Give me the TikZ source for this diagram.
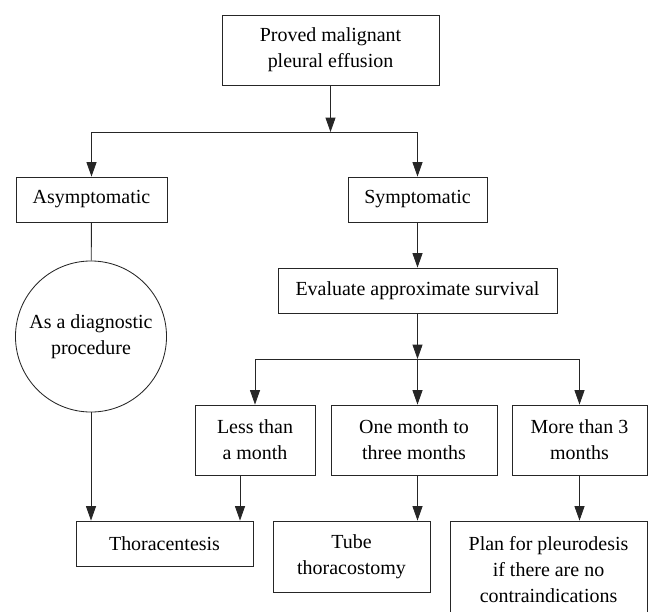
\documentclass[tikz,border=0pt]{standalone}
\usepackage{fontspec}
\setmainfont{Liberation Serif}
\usetikzlibrary{shapes,arrows.meta}
\tikzstyle{block} = [draw, fill=white, rectangle, minimum height=1.125cm, inner sep=2pt, align=center]
\tikzstyle{roundblock} = [draw, fill=white, circle, minimum size=3.775cm, inner sep=1pt, align=center]

\begin{document}
\begin{tikzpicture}[auto, x=0.025cm, y=-0.025cm, >={Triangle[length=3.6mm, width=2.5mm]}, line width=0.6pt, draw=black!85]
    \tikzset{font={\fontsize{14.2pt}{18.5pt}\selectfont}}
    \useasboundingbox (0,0) rectangle (648,611);
    \node [block, minimum width=5.425cm, minimum height=1.75cm] (pmpe) at (330.5,50) {Proved malignant\\ pleural effusion};
    \node [block, minimum width=3.775cm] (asym) at (91.5,199.5) {Asymptomatic};
    \node [block, minimum width=3.475cm] (sym) at (417.5,199.5) {Symptomatic};
    \node [roundblock] (diag) at (91,336.5) {As a diagnostic\\ procedure};
    \node [block, minimum width=6.975cm] (eval) at (417.5,290.5) {Evaluate approximate survival};
    \node [block, minimum width=3.0cm, minimum height=1.75cm] (lt1) at (255,440) {Less than\\ a month};
    \node [block, minimum width=4.15cm, minimum height=1.75cm] (onethree) at (414,440) {One month to\\ three months};
    \node [block, minimum width=3.375cm, minimum height=1.75cm] (gt3) at (579.5,440) {More than 3\\ months};
    \node [block, minimum width=4.425cm] (thora) at (164.5,543.5) {Thoracentesis};
    \node [block, minimum width=3.925cm, minimum height=1.775cm] (tube) at (351.5,556.5) {Tube\\ thoracostomy};
    \node [block, minimum width=4.925cm, minimum height=2.45cm] (pleuro) at (548.5,570) {Plan for pleurodesis\\ if there are no\\ contraindications};

    % Branch points
    \coordinate (split1) at (330.5,132);
    \coordinate (split2) at (417.5,359);
    \coordinate (lt1out) at (240,475);

    \draw [->] (pmpe) -- (split1);
    \draw [->] (split1) -| (asym);
    \draw [->] (split1) -| (sym);
    \draw (asym) -- (diag);
    \draw [->] (diag) -- (diag |- thora.north);
    \draw [->] (sym) -- (eval);
    \draw [->] (eval) -- (split2);
    \draw [->] (split2) -| (lt1);
    \draw [->] (split2) -- (split2 |- onethree.north);
    \draw [->] (split2) -| (gt3);
    \draw [->] (lt1out) -- (lt1out |- thora.north);
    \draw [->] (onethree.south -| split2) -- (split2 |- tube.north);
    \draw [->] (gt3) -- (gt3 |- pleuro.north);
\end{tikzpicture}
\end{document}
